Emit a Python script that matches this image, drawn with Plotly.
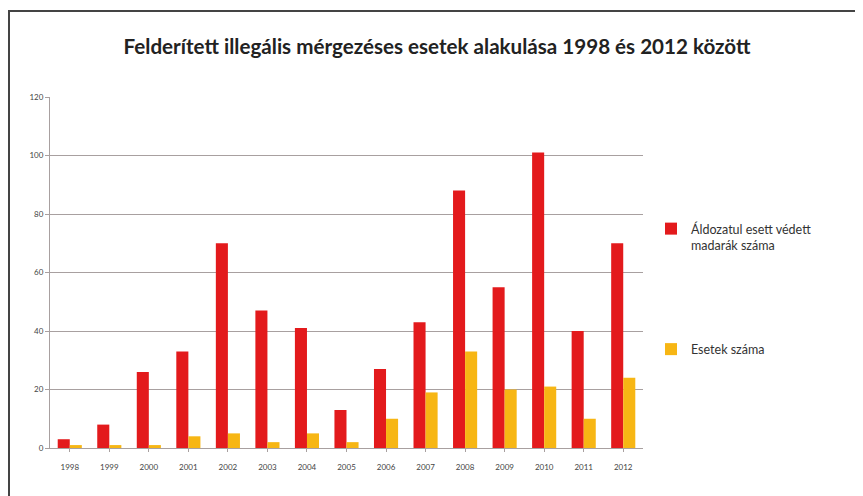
import plotly.graph_objects as go

years = ["1998", "1999", "2000", "2001", "2002", "2003", "2004", "2005",
         "2006", "2007", "2008", "2009", "2010", "2011", "2012"]
birds = [3, 8, 26, 33, 70, 47, 41, 13, 27, 43, 88, 55, 101, 40, 70]
cases = [1, 1, 1, 4, 5, 2, 5, 2, 10, 19, 33, 20, 21, 10, 24]
y_ticks = [0, 20, 40, 60, 80, 100, 120]

name_birds = "Áldozatul esett védett<br>madarák száma"
name_cases = "Esetek száma"
title = "Felderített illegális mérgezéses esetek alakulása 1998 és 2012 között"

# page is offset by 8px body margin; work in page coords, convert to figure coords
OFF = 8
W, H = 863 - OFF, 496 - OFF
L, R, T, B = 50 - OFF, 643 - OFF, 97 - OFF, 448 - OFF


def px(x):
    return (x - OFF - L) / (R - L)


def py(y):
    return (B - (y - OFF)) / (B - T)


fig = go.Figure()
fig.add_trace(go.Bar(x=years, y=birds, name=name_birds, legendgroup="a",
                     marker=dict(color="#e31a1c", line=dict(width=0))))
fig.add_trace(go.Bar(x=years, y=cases, name=name_cases, legendgroup="b",
                     marker=dict(color="#f7b614", line=dict(width=0))))

fig.update_layout(
    width=W, height=H,
    margin=dict(l=L, r=W - R, t=T, b=H - B, pad=0),
    paper_bgcolor="white", plot_bgcolor="white",
    font=dict(family="Lato, 'Open Sans', sans-serif", color="#333333"),
    barmode="group", bargap=0.39, bargroupgap=0.0,
    title=dict(text="<b>" + title + "</b>", x=px(437), xref="paper", xanchor="center",
               y=1 - (47 - OFF) / H, yanchor="middle",
               font=dict(size=20.6, color="#222222")),
    showlegend=True,
    legend=dict(x=px(651), y=py(214), xanchor="left", yanchor="top",
                traceorder="grouped", tracegroupgap=85, valign="top",
                font=dict(size=12.5, color="#333333"), itemwidth=30,
                bgcolor="rgba(0,0,0,0)"),
    xaxis=dict(showgrid=False, showline=True, linecolor="#a8a0a0", linewidth=1,
               ticks="outside", ticklen=3, tickcolor="#a8a0a0",
               ticklabelstandoff=8,
               tickfont=dict(size=8, color="#444444")),
    yaxis=dict(range=[0, 120], tickvals=y_ticks, showgrid=True,
               gridcolor="#a8a0a0", gridwidth=1, showline=True,
               linecolor="#a8a0a0", linewidth=1, ticks="outside", ticklen=4,
               tickcolor="#a8a0a0", tickfont=dict(size=8, color="#444444"),
               zeroline=False),
    shapes=[
        dict(type="line", xref="paper", yref="paper", x0=px(OFF), x1=px(863 + OFF),
             y0=py(11), y1=py(11), line=dict(color="#444444", width=2)),
        dict(type="line", xref="paper", yref="paper", x0=px(OFF + 1), x1=px(OFF + 1),
             y0=py(11), y1=py(500), line=dict(color="#444444", width=2)),
    ],
)

fig.write_html("out.html")
